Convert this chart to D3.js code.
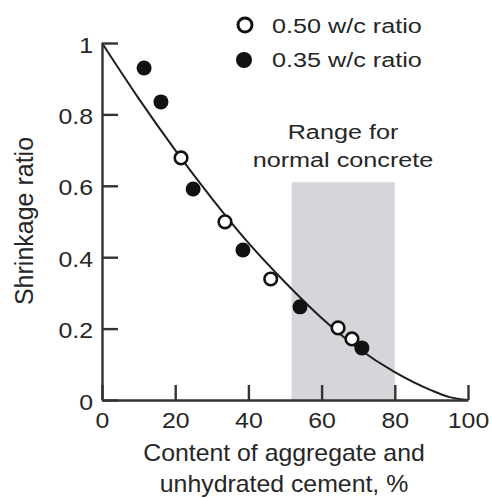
<!DOCTYPE html>
<html>
<head>
<meta charset="utf-8">
<script src="https://cdn.jsdelivr.net/npm/d3@7/dist/d3.min.js"></script>
<style>
  html, body { margin: 0; padding: 0; background: #ffffff; }
  svg { display: block; }
  text { font-family: "Liberation Sans", Arial, Helvetica, sans-serif; fill: #262626; }
</style>
</head>
<body>
<svg id="chart" width="492" height="498"></svg>
<script>
// ---- data ----
const xTicks = [0, 20, 40, 60, 80, 100];
const xTickLabels = ["0", "20", "40", "60", "80", "100"];
const yTicks = [0, 0.2, 0.4, 0.6, 0.8, 1];
const yTickLabels = ["0", "0.2", "0.4", "0.6", "0.8", "1"];

// 0.50 w/c ratio (open circles)
const open50X = [21.6, 33.6, 46.1, 64.5, 68.3];
const open50Y = [0.678, 0.499, 0.339, 0.202, 0.171];
// 0.35 w/c ratio (filled circles)
const filled35X = [11.5, 16.1, 24.9, 38.5, 54.1, 71.0];
const filled35Y = [0.93, 0.835, 0.591, 0.42, 0.261, 0.146];

// fitted curve
const curveX = [0, 10, 20, 30, 40, 50, 60, 70, 80, 90, 95, 100];
const curveY = [1.0, 0.845, 0.70, 0.565, 0.44, 0.33, 0.23, 0.145, 0.078, 0.027, 0.008, 0.0];

// shaded range for normal concrete
const rangeX = [51.8, 80];
const rangeTop = 0.61;

const legendLabels = ["0.50 w/c ratio", "0.35 w/c ratio"];
const rangeLabel = ["Range for", "normal concrete"];
const yTitle = "Shrinkage ratio";
const xTitle = ["Content of aggregate and", "unhydrated cement, %"];

// ---- layout ----
const svg = d3.select("#chart");
const x = d3.scaleLinear().domain([0, 100]).range([102, 468]);
const y = d3.scaleLinear().domain([0, 1]).range([400, 43]);
const ink = "#262626";

function stretchedText(parent, tx, ty, str, size, sx, anchor) {
  return parent.append("text")
    .attr("transform", `translate(${tx},${ty}) scale(${sx},1)`)
    .attr("text-anchor", anchor || "start")
    .style("font-size", size + "px")
    .text(str);
}

// shaded band
svg.append("rect")
  .attr("x", x(rangeX[0]))
  .attr("y", y(rangeTop))
  .attr("width", x(rangeX[1]) - x(rangeX[0]))
  .attr("height", y(0) - y(rangeTop))
  .attr("fill", "#d5d6da");

// curve
const curvePts = curveX.map((d, i) => [d, curveY[i]]);
svg.append("path")
  .datum(curvePts)
  .attr("fill", "none")
  .attr("stroke", "#1e1e1e")
  .attr("stroke-width", 2)
  .attr("d", d3.line().x(d => x(d[0])).y(d => y(d[1])).curve(d3.curveMonotoneX));

// filled points
svg.append("g").selectAll("circle")
  .data(filled35X.map((d, i) => [d, filled35Y[i]]))
  .join("circle")
  .attr("cx", d => x(d[0]))
  .attr("cy", d => y(d[1]))
  .attr("r", 7.5)
  .attr("fill", "#111");

// open points
svg.append("g").selectAll("circle")
  .data(open50X.map((d, i) => [d, open50Y[i]]))
  .join("circle")
  .attr("cx", d => x(d[0]))
  .attr("cy", d => y(d[1]))
  .attr("r", 6.3)
  .attr("fill", "#fff")
  .attr("stroke", "#111")
  .attr("stroke-width", 2.6);

// axes
const yAxis = d3.axisLeft(y).tickValues(yTicks)
  .tickFormat((d, i) => yTickLabels[i])
  .tickSizeInner(-16).tickSizeOuter(0).tickPadding(9);
const xAxis = d3.axisBottom(x).tickValues(xTicks)
  .tickFormat((d, i) => xTickLabels[i])
  .tickSizeInner(-15).tickSizeOuter(0).tickPadding(12);

const gy = svg.append("g").attr("transform", `translate(${x(0)},0)`).call(yAxis);
const gx = svg.append("g").attr("transform", `translate(0,${y(0)})`).call(xAxis);

[gx, gy].forEach(g => {
  g.select(".domain").attr("stroke", "#333").attr("stroke-width", 2.4);
  g.selectAll(".tick line").attr("stroke", "#333").attr("stroke-width", 2.4);
  g.selectAll(".tick text")
    .attr("fill", ink)
    .style("font-size", "22px")
    .style("font-family", "'Liberation Sans', Arial, sans-serif");
});
gy.selectAll(".tick text").each(function () {
  const t = d3.select(this);
  const xx = +t.attr("x");
  t.attr("x", 0).attr("transform", `translate(${xx},2) scale(1.13,1)`);
});
gx.selectAll(".tick text").attr("transform", "scale(1.13,1)");

// legend
svg.append("circle").attr("cx", 245).attr("cy", 25).attr("r", 7)
  .attr("fill", "#fff").attr("stroke", "#111").attr("stroke-width", 3);
svg.append("circle").attr("cx", 244).attr("cy", 60).attr("r", 8).attr("fill", "#111");
stretchedText(svg, 272, 33, legendLabels[0], 21, 1.2);
stretchedText(svg, 272, 67, legendLabels[1], 21, 1.2);

// range annotation
stretchedText(svg, 343, 139, rangeLabel[0], 21, 1.2, "middle");
stretchedText(svg, 343, 167, rangeLabel[1], 21, 1.2, "middle");

// axis titles
svg.append("text")
  .attr("transform", "translate(33,221) rotate(-90)")
  .attr("text-anchor", "middle")
  .style("font-size", "25px")
  .text(yTitle);
stretchedText(svg, 284, 461, xTitle[0], 23, 1.08, "middle");
stretchedText(svg, 284, 492, xTitle[1], 23, 1.08, "middle");
</script>
</body>
</html>
